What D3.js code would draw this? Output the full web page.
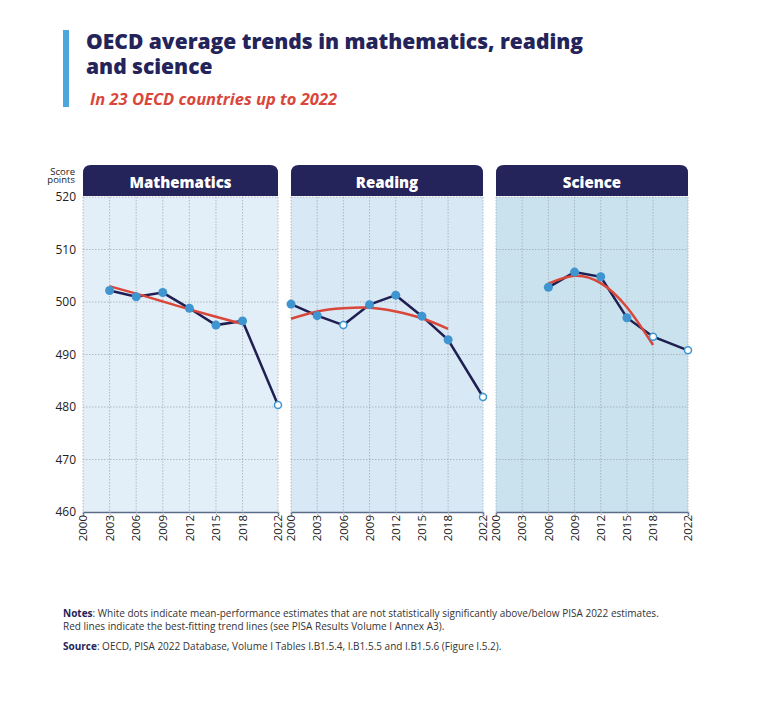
<!DOCTYPE html>
<html><head><meta charset="utf-8">
<script src="https://cdn.jsdelivr.net/npm/d3@7"></script>
<style>body{margin:0;background:#fff;font-family:"Open Sans","Noto Sans",sans-serif;}</style>
</head><body>
<svg id="chart" width="758" height="711"></svg>
<script>
var subjects = ['Mathematics', 'Reading', 'Science'];
var yearTicks = [2000, 2003, 2006, 2009, 2012, 2015, 2018, 2022];
var scoreTicks = [460, 470, 480, 490, 500, 510, 520];

var mathYears = [2003, 2006, 2009, 2012, 2015, 2018, 2022];
var mathScores = [502.2, 501.0, 501.8, 498.8, 495.6, 496.4, 480.4];
var mathOpen = [false, false, false, false, false, false, true];
var mathTrendYears = [2003, 2006, 2009, 2012, 2015, 2018];
var mathTrend = [503.0, 501.6, 500.1, 498.6, 497.2, 495.8];

var readYears = [2000, 2003, 2006, 2009, 2012, 2015, 2018, 2022];
var readScores = [499.6, 497.4, 495.6, 499.5, 501.3, 497.3, 492.8, 481.9];
var readOpen = [false, false, true, false, false, false, false, true];
var readTrendYears = [2000, 2003, 2006, 2009, 2012, 2015, 2018];
var readTrend = [496.8, 498.2, 498.8, 498.9, 498.2, 496.9, 494.9];

var sciYears = [2006, 2009, 2012, 2015, 2018, 2022];
var sciScores = [502.8, 505.7, 504.8, 497.0, 493.4, 490.8];
var sciOpen = [false, false, false, false, true, true];
var sciTrendYears = [2006, 2009, 2012, 2015, 2018];
var sciTrend = [503.5, 505.0, 503.6, 499.0, 491.8];

var panels = [
  {name: subjects[0], years: mathYears, scores: mathScores, open: mathOpen, ty: mathTrendYears, tv: mathTrend, x0: 83, x1: 278, bg: '#e2eff8'},
  {name: subjects[1], years: readYears, scores: readScores, open: readOpen, ty: readTrendYears, tv: readTrend, x0: 291, x1: 483, bg: '#d8e8f5'},
  {name: subjects[2], years: sciYears, scores: sciScores, open: sciOpen, ty: sciTrendYears, tv: sciTrend, x0: 496, x1: 688, bg: '#cae2ed'}
];

var svg = d3.select('#chart');
var navy = '#24235a';

// title block
svg.append('rect').attr('x', 63).attr('y', 30).attr('width', 6).attr('height', 77).attr('fill', '#4ba7dc');
svg.append('text').attr('x', 86).attr('y', 49).attr('fill', navy).attr('font-size', 21).attr('font-weight', 800).text('OECD average trends in mathematics, reading');
svg.append('text').attr('x', 86).attr('y', 74).attr('fill', navy).attr('font-size', 21).attr('font-weight', 800).text('and science');
svg.append('text').attr('x', 90).attr('y', 105).attr('fill', '#d9473a').attr('font-size', 16.5).attr('font-weight', 700).attr('font-style', 'italic').text('In 23 OECD countries up to 2022');

var y = d3.scaleLinear().domain([460, 520]).range([512, 197]);

// y axis
svg.append('text').attr('x', 75).attr('y', 175).attr('text-anchor', 'end').attr('font-size', 9.5).attr('fill', '#222').text('Score');
svg.append('text').attr('x', 75).attr('y', 183).attr('text-anchor', 'end').attr('font-size', 9.5).attr('fill', '#222').text('points');
var yAxis = svg.append('g').attr('transform', 'translate(83,0)')
  .call(d3.axisLeft(y).tickValues(scoreTicks).tickSize(0).tickPadding(7));
yAxis.select('.domain').remove();
yAxis.selectAll('text').attr('font-size', 12).attr('fill', '#222').attr('font-family', '"Open Sans",sans-serif');

panels.forEach(function(p) {
  var x = d3.scaleLinear().domain([2000, 2022]).range([p.x0, p.x1]);
  var g = svg.append('g');
  g.append('rect').attr('x', p.x0).attr('y', 197).attr('width', p.x1 - p.x0).attr('height', 315).attr('fill', p.bg);
  // header tab
  var hx = p.x0, hw = p.x1 - p.x0, r = 8;
  g.append('path').attr('fill', navy)
    .attr('d', 'M' + hx + ',196V' + (165 + r) + 'Q' + hx + ',165 ' + (hx + r) + ',165H' + (hx + hw - r) + 'Q' + (hx + hw) + ',165 ' + (hx + hw) + ',' + (165 + r) + 'V196Z');
  g.append('text').attr('x', hx + hw / 2).attr('y', 188).attr('text-anchor', 'middle').attr('fill', '#fff')
    .attr('font-size', 15).attr('font-weight', 800).text(p.name);
  // grid
  g.selectAll('.hg').data(scoreTicks.slice(1)).join('line')
    .attr('x1', p.x0).attr('x2', p.x1).attr('y1', d => y(d)).attr('y2', d => y(d))
    .attr('stroke', '#9aa3ad').attr('stroke-width', 0.7).attr('stroke-dasharray', '1.5,1.5');
  g.selectAll('.vg').data(yearTicks).join('line')
    .attr('x1', d => x(d)).attr('x2', d => x(d)).attr('y1', 197).attr('y2', 512)
    .attr('stroke', '#9aa3ad').attr('stroke-width', 0.7).attr('stroke-dasharray', '1.5,1.5');
  // x axis
  var xa = g.append('g').attr('transform', 'translate(0,512)')
    .call(d3.axisBottom(x).tickValues(yearTicks).tickFormat(d3.format('d')).tickSize(4));
  xa.select('.domain').attr('stroke', '#5b6b8a').attr('stroke-width', 1.5);
  xa.selectAll('.tick line').attr('stroke', '#9aa3ad').attr('stroke-dasharray', '1,1');
  xa.selectAll('text').attr('font-size', 11.5).attr('fill', '#222').attr('font-family', '"Open Sans",sans-serif')
    .attr('transform', 'rotate(-90)').attr('text-anchor', 'end').attr('y', 0).attr('x', -3)
    .attr('dy', '0.32em');
  // data line
  var pts = p.years.map((yr, i) => ({yr: yr, v: p.scores[i], open: p.open[i]}));
  g.append('path').datum(pts).attr('fill', 'none').attr('stroke', '#1f1f52').attr('stroke-width', 2.5)
    .attr('d', d3.line().x(d => x(d.yr)).y(d => y(d.v)));
  // trend
  var tpts = p.ty.map((yr, i) => ({yr: yr, v: p.tv[i]}));
  g.append('path').datum(tpts).attr('fill', 'none').attr('stroke', '#d9473a').attr('stroke-width', 2.5)
    .attr('d', d3.line().curve(d3.curveNatural).x(d => x(d.yr)).y(d => y(d.v)));
  g.selectAll('.pt').data(pts).join('circle')
    .attr('cx', d => x(d.yr)).attr('cy', d => y(d.v)).attr('r', d => d.open ? 3.5 : 4.5)
    .attr('fill', d => d.open ? '#fff' : '#3f95d0')
    .attr('stroke', '#3f95d0').attr('stroke-width', d => d.open ? 1.5 : 0);
});

// notes
var notes = svg.append('g').attr('font-size', 10).attr('fill', '#333');
var n1 = notes.append('text').attr('x', 63).attr('y', 617);
n1.append('tspan').attr('font-weight', 700).attr('fill', navy).text('Notes');
n1.append('tspan').text(': White dots indicate mean-performance estimates that are not statistically significantly above/below PISA 2022 estimates.');
notes.append('text').attr('x', 63).attr('y', 630).text('Red lines indicate the best-fitting trend lines (see PISA Results Volume I Annex A3).');
var n3 = notes.append('text').attr('x', 63).attr('y', 650);
n3.append('tspan').attr('font-weight', 700).attr('fill', navy).text('Source');
n3.append('tspan').text(': OECD, PISA 2022 Database, Volume I Tables I.B1.5.4, I.B1.5.5 and I.B1.5.6 (Figure I.5.2).');
</script>
</body></html>
